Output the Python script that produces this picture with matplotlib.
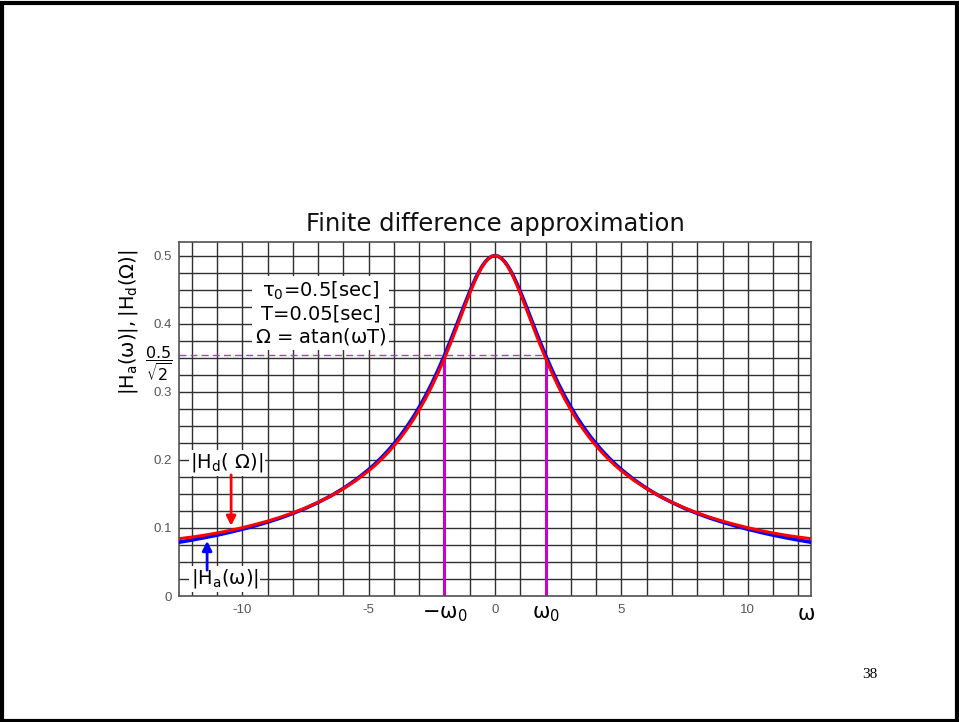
import numpy as np
import matplotlib.pyplot as plt
from matplotlib.patches import Rectangle

# frequency samples (one side, the response is even in omega)
w_half = [0, 0.125, 0.25, 0.375, 0.5, 0.625, 0.75, 0.875, 1.0, 1.125, 1.25,
          1.375, 1.5, 1.75, 2.0, 2.25, 2.5, 2.75, 3.0, 3.25, 3.5, 3.75, 4.0,
          4.25, 4.5, 4.75, 5.0, 5.5, 6.0, 6.5, 7.0, 7.5, 8.0, 8.5, 9.0, 9.5,
          10.0, 10.5, 11.0, 11.5, 12.0, 12.5]
# |Ha(w)|, analog response
ha_half = [0.5, 0.4990, 0.4961, 0.4914, 0.4851, 0.4772, 0.4682, 0.4581, 0.4472,
           0.4358, 0.4240, 0.4120, 0.4000, 0.3763, 0.3536, 0.3322, 0.3123,
           0.2941, 0.2774, 0.2620, 0.2481, 0.2353, 0.2236, 0.2129, 0.2031,
           0.1940, 0.1857, 0.1709, 0.1581, 0.1470, 0.1374, 0.1288, 0.1213,
           0.1145, 0.1085, 0.1030, 0.0981, 0.0936, 0.0894, 0.0857, 0.0822,
           0.0790]
# |Hd(Omega)|, finite difference response
hd_half = [0.5, 0.4989, 0.4958, 0.4910, 0.4842, 0.4760, 0.4665, 0.4558, 0.4445,
           0.4327, 0.4205, 0.4083, 0.3960, 0.3720, 0.3492, 0.3278, 0.3080,
           0.2898, 0.2732, 0.2580, 0.2443, 0.2318, 0.2204, 0.2100, 0.2005,
           0.1918, 0.1838, 0.1697, 0.1575, 0.1469, 0.1376, 0.1294, 0.1221,
           0.1157, 0.1100, 0.1050, 0.1003, 0.0962, 0.0925, 0.0893, 0.0865,
           0.0842]

w0 = 2.0
cutoff = 0.5 / np.sqrt(2)
num_ticks = [-10, -5, 0, 5, 10]
y_ticks = [0, 0.1, 0.2, 0.3, 0.4, 0.5]

# mirror to negative frequencies
w = np.concatenate([-np.array(w_half[:0:-1]), w_half])
ha = np.concatenate([ha_half[:0:-1], ha_half])
hd = np.concatenate([hd_half[:0:-1], hd_half])

fig = plt.figure(figsize=(9.59, 7.22), dpi=100)
ax = fig.add_axes([0.1867, 0.1745, 0.659, 0.4903])

# grid
for x in range(-12, 13):
    ax.axvline(x, color='#303030', lw=1.0, zorder=1)
for y in np.arange(0.025, 0.52, 0.025):
    ax.axhline(y, color='#303030', lw=1.0, zorder=1)

ax.plot([-12.5, w0], [cutoff, cutoff], color='#b040b0', lw=1, dashes=(5, 3), zorder=2)
ax.vlines([-w0, w0], 0, cutoff, color='#cc00cc', lw=2.2, zorder=2)

ax.plot(w, ha, color='#0000ff', lw=2.6, zorder=3)
ax.plot(w, hd, color='#ff0000', lw=2.2, zorder=4)

ax.set_xlim(-12.5, 12.5)
ax.set_ylim(0, 0.52)
for s in ax.spines.values():
    s.set_color('#505050')
    s.set_linewidth(1.2)
ax.tick_params(length=0)

ax.set_yticks(y_ticks + [cutoff])
ax.set_yticklabels([str(v) for v in y_ticks] + [r'$\dfrac{0.5}{\sqrt{2}}$'])
for lbl in ax.get_yticklabels()[:-1]:
    lbl.set_color('#555555')
    lbl.set_fontsize(9.5)
    lbl.set_family('Liberation Sans')
ax.get_yticklabels()[-1].set_fontsize(11.5)
ax.get_yticklabels()[-1].set_color('black')
ax.tick_params(axis='y', pad=5)

xt = num_ticks + [-w0, w0, 12.3]
ax.set_xticks(xt)
ax.set_xticklabels([str(v) for v in num_ticks] +
                   [r'$-\mathrm{\omega}_0$', r'$\mathrm{\omega}_0$', r'$\mathrm{\omega}$'])
for lbl in ax.get_xticklabels()[:5]:
    lbl.set_color('#555555')
    lbl.set_fontsize(9.5)
    lbl.set_family('Liberation Sans')
for lbl in ax.get_xticklabels()[5:]:
    lbl.set_fontsize(15)
    lbl.set_color('black')
ax.tick_params(axis='x', pad=6)

ax.set_ylabel(r'$|\mathregular{H_a(\omega)}|,|\mathregular{H_d(\Omega)}|$', fontsize=14, labelpad=0)
ax.yaxis.set_label_coords(-0.062, 0.774)
ax.set_title('Finite difference approximation', fontsize=17.5, pad=8, color='#111111')

ax.text(-6.9, 0.415, r'$\mathrm{\tau}_0$=0.5[sec]' + '\nT=0.05[sec]\n' +
        r'$\mathrm{\Omega}$ = atan($\mathrm{\omega}$T)',
        fontsize=14, ha='center', va='center', linespacing=1.18, zorder=5,
        bbox=dict(facecolor='white', edgecolor='none', pad=2))

ax.text(-10.6, 0.1956, r'$|\mathregular{H_d(\ \Omega)}|$', fontsize=14, ha='center', va='center',
        zorder=5, bbox=dict(facecolor='white', edgecolor='none', pad=1))
ax.annotate('', xy=(-10.44, 0.099), xytext=(-10.44, 0.182), zorder=5,
            arrowprops=dict(arrowstyle='-|>', color='#ff0000', lw=2, mutation_scale=14))

ax.text(-10.7, 0.025, r'$|\mathregular{H_a(\omega)}|$', fontsize=14, ha='center', va='center',
        zorder=5, bbox=dict(facecolor='white', edgecolor='none', pad=1))
ax.annotate('', xy=(-11.39, 0.085), xytext=(-11.39, 0.034), zorder=5,
            arrowprops=dict(arrowstyle='-|>', color='#0000ff', lw=2, mutation_scale=14))

fig.text(870 / 959, 1 - 675 / 722, '38', fontsize=11, family='Liberation Serif',
         ha='center', va='center')

fig.patches.append(Rectangle((0.002, 0.002), 0.996, 0.994, transform=fig.transFigure,
                             fill=False, edgecolor='black', lw=3))

fig.savefig('out.png', dpi=100)
